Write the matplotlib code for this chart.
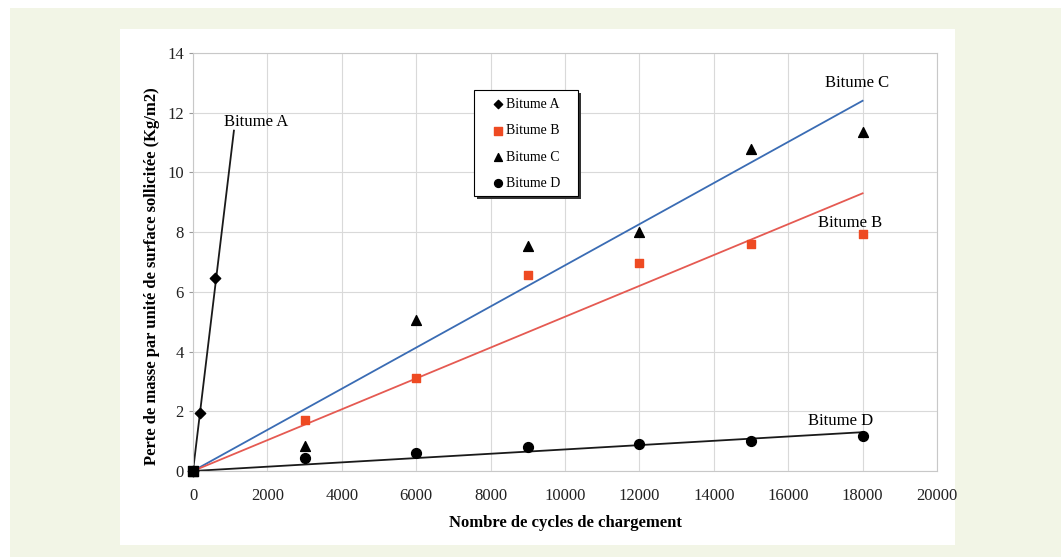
import matplotlib.pyplot as plt
import matplotlib.patches as mpatches
import numpy as np

plt.rcParams['font.family'] = ['Liberation Serif', 'DejaVu Serif']

# data
cycles = [0, 3000, 6000, 9000, 12000, 15000, 18000]
cycles_A = [0, 200, 600]
loss_A = [0, 1.95, 6.45]
loss_B = [0, 1.7, 3.1, 6.55, 6.95, 7.6, 7.95]
loss_C = [0, 0.85, 5.05, 7.55, 8.0, 10.8, 11.35]
loss_D = [0, 0.42, 0.6, 0.82, 0.9, 1.0, 1.18]

# trend line slopes (kg/m2 per cycle) and extents
slope_A = 11.4 / 1100
slope_B = 9.3 / 18000
slope_C = 12.4 / 18000
slope_D = 1.3 / 18000
end_A = 1100
end_BCD = 18000

fig = plt.figure(figsize=(10.61, 5.57), dpi=100)
fig.patch.set_facecolor('white')

# background panels
fig.patches.append(mpatches.Rectangle((10 / 1061, 0), 1 - 10 / 1061, 1 - 8 / 557,
                                      transform=fig.transFigure, facecolor='#f2f5e6',
                                      edgecolor='none', zorder=-2))
fig.patches.append(mpatches.Rectangle((120 / 1061, 1 - 545 / 557), (955 - 120) / 1061, (545 - 29) / 557,
                                      transform=fig.transFigure, facecolor='white',
                                      edgecolor='none', zorder=-1))

ax = fig.add_axes([193 / 1061, 1 - 471 / 557, 744 / 1061, 418 / 557])
ax.set_facecolor('none')

# trend lines
xa = np.array([0, end_A])
xb = np.array([0, end_BCD])
ax.plot(xa, slope_A * xa, color='#1a1a1a', lw=1.3, zorder=2)
ax.plot(xb, slope_C * xb, color='#3a6cb4', lw=1.3, zorder=2)
ax.plot(xb, slope_B * xb, color='#e55a52', lw=1.3, zorder=2)
ax.plot(xb, slope_D * xb, color='#1a1a1a', lw=1.3, zorder=2)

# points
ax.scatter(cycles, loss_B, marker='s', s=40, color='#ee4a22', zorder=3, label='Bitume B', clip_on=False)
ax.scatter(cycles, loss_C, marker='^', s=50, color='black', zorder=3, label='Bitume C', clip_on=False)
ax.scatter(cycles, loss_D, marker='o', s=50, color='black', zorder=3, label='Bitume D', clip_on=False)
ax.scatter(cycles_A, loss_A, marker='D', s=28, color='black', zorder=3, label='Bitume A', clip_on=False)
ax.scatter([0], [0], marker='s', s=45, color='black', zorder=3, clip_on=False)

# line labels
ax.text(1700, 11.7, 'Bitume A', fontsize=12, ha='center', va='center')
ax.text(17850, 13.0, 'Bitume C', fontsize=12, ha='center', va='center')
ax.text(17650, 8.3, 'Bitume B', fontsize=12, ha='center', va='center')
ax.text(17400, 1.67, 'Bitume D', fontsize=12, ha='center', va='center')

ax.set_xlim(0, 20000)
ax.set_ylim(0, 14)
ax.set_xticks(np.arange(0, 20001, 2000))
ax.set_yticks(np.arange(0, 15, 2))
ax.grid(True, color='#d9d9d9', lw=0.8)
ax.set_axisbelow(True)
for s in ax.spines.values():
    s.set_color('#c8c8c8')
    s.set_linewidth(0.8)
ax.tick_params(labelsize=12, colors='#222222', length=3, color='#999999')
ax.tick_params(axis='x', length=0, pad=12)

ax.set_xlabel('Nombre de cycles de chargement', fontsize=12, fontweight='bold', labelpad=8)
ax.set_ylabel('Perte de masse par unité de surface sollicitée (Kg/m2)', fontsize=12,
              fontweight='bold')
ax.yaxis.set_label_coords(-0.044, 0.467)

# legend box with shadow, drawn by hand
box = dict(x=0.3777, y=0.6579, w=0.1398, h=0.2536)
ax.add_patch(mpatches.Rectangle((box['x'] + 0.004, box['y'] - 0.0072), box['w'], box['h'],
                                transform=ax.transAxes, facecolor='#333333',
                                edgecolor='none', zorder=4))
ax.add_patch(mpatches.Rectangle((box['x'], box['y']), box['w'], box['h'],
                                transform=ax.transAxes, facecolor='white',
                                edgecolor='black', lw=0.8, zorder=5))
handles, labels = ax.get_legend_handles_labels()
order = [3, 0, 1, 2]
leg = ax.legend([handles[i] for i in order], [labels[i] for i in order],
                loc='upper left', bbox_to_anchor=(0.4005, 0.893), fontsize=10,
                frameon=False, handletextpad=0.1, handlelength=1.0,
                labelspacing=0.97, borderpad=0, borderaxespad=0, markerscale=0.8)
leg.set_zorder(6)

fig.savefig('out.png', dpi=100, facecolor=fig.get_facecolor())
